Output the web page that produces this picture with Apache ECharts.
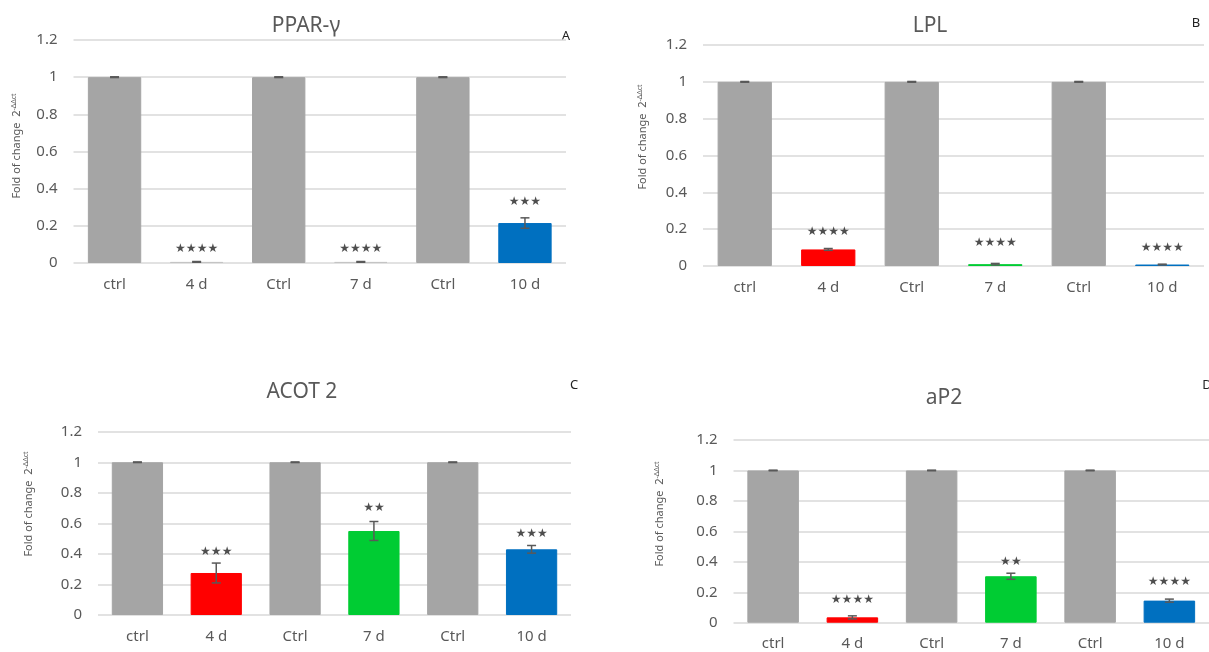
<!DOCTYPE html>
<html>
<head>
<meta charset="utf-8">
<script src="https://cdn.jsdelivr.net/npm/echarts@6/dist/echarts.min.js"></script>
<style>
  html, body { margin: 0; padding: 0; background: #fff; }
  #chart { width: 1209px; height: 652px; }
</style>
</head>
<body>
<div id="chart"></div>
<script>
// categories shared by all four panels
const categories = ["ctrl", "4 d", "Ctrl", "7 d", "Ctrl", "10 d"];

// PPAR-γ (A)
const ppargValues = [1, 0.006, 1, 0.006, 1, 0.215];
const ppargErrors = [0.002, 0.002, 0.002, 0.002, 0.002, 0.028];
const ppargStars = ["", "★★★★", "", "★★★★", "", "★★★"];
const ppargStarY = [0, 0.075, 0, 0.075, 0, 0.33];

// LPL (B)
const lplValues = [1, 0.09, 1, 0.01, 1, 0.008];
const lplErrors = [0.002, 0.005, 0.002, 0.004, 0.002, 0.002];
const lplStars = ["", "★★★★", "", "★★★★", "", "★★★★"];
const lplStarY = [0, 0.186, 0, 0.123, 0, 0.1];

// ACOT 2 (C)
const acotValues = [1, 0.275, 1, 0.55, 1, 0.43];
const acotErrors = [0.002, 0.065, 0.002, 0.062, 0.002, 0.025];
const acotStars = ["", "★★★", "", "★★", "", "★★★"];
const acotStarY = [0, 0.415, 0, 0.7, 0, 0.53];

// aP2 (D)
const ap2Values = [1, 0.035, 1, 0.305, 1, 0.145];
const ap2Errors = [0.002, 0.01, 0.002, 0.02, 0.002, 0.01];
const ap2Stars = ["", "★★★★", "", "★★", "", "★★★★"];
const ap2StarY = [0, 0.149, 0, 0.4, 0, 0.265];

const gray = "#a5a5a5";
const colorsA = [gray, "#c4c4c4", gray, "#c4c4c4", gray, "#0070c0"];
const colorsBCD = [gray, "#ff0000", gray, "#00cc33", gray, "#0070c0"];

const font = "Noto Sans";
const textGray = "#595959";

const grids = [
  { left: 73.5, top: 40, width: 492.5, height: 223 },
  { left: 703, top: 45, width: 501, height: 221 },
  { left: 98, top: 431.7, width: 473, height: 183.3 },
  { left: 733.5, top: 440, width: 486, height: 182.7 },
];

const panels = [
  { values: ppargValues, errors: ppargErrors, stars: ppargStars, starY: ppargStarY, colors: colorsA },
  { values: lplValues, errors: lplErrors, stars: lplStars, starY: lplStarY, colors: colorsBCD },
  { values: acotValues, errors: acotErrors, stars: acotStars, starY: acotStarY, colors: colorsBCD },
  { values: ap2Values, errors: ap2Errors, stars: ap2Stars, starY: ap2StarY, colors: colorsBCD },
];

const xAxes = [];
const yAxes = [];
const series = [];

panels.forEach((p, i) => {
  xAxes.push({
    gridIndex: i,
    type: "category",
    data: categories,
    axisLine: { show: false },
    axisTick: { show: false },
    axisLabel: { color: textGray, fontSize: 15, fontFamily: font, margin: 14 },
  });
  yAxes.push({
    gridIndex: i,
    type: "value",
    min: 0,
    max: 1.2,
    interval: 0.2,
    axisLine: { show: false },
    axisTick: { show: false },
    axisLabel: { color: textGray, fontSize: 15, fontFamily: font, margin: 16 },
    splitLine: { lineStyle: { color: "#d9d9d9", width: 1.5 } },
  });
  // bars
  series.push({
    type: "bar",
    xAxisIndex: i,
    yAxisIndex: i,
    barWidth: "65%",
    silent: true,
    data: p.values.map((v, k) => ({
      value: v,
      itemStyle: { color: p.colors[k], borderColor: p.colors[k], borderWidth: 1 },
    })),
  });
  // error bars
  series.push({
    type: "custom",
    xAxisIndex: i,
    yAxisIndex: i,
    silent: true,
    z: 5,
    data: p.values.map((v, k) => [k, v, p.errors[k]]),
    renderItem: function (params, api) {
      const x = api.value(0);
      const v = api.value(1);
      const e = api.value(2);
      const top = api.coord([x, v + e]);
      const bot = api.coord([x, Math.max(v - e, 0)]);
      const hw = 4.5;
      const style = { stroke: "#595959", lineWidth: 1.5 };
      return {
        type: "group",
        children: [
          { type: "line", shape: { x1: top[0], y1: top[1], x2: bot[0], y2: bot[1] }, style: style },
          { type: "line", shape: { x1: top[0] - hw, y1: top[1], x2: top[0] + hw, y2: top[1] }, style: style },
          { type: "line", shape: { x1: bot[0] - hw, y1: bot[1], x2: bot[0] + hw, y2: bot[1] }, style: style },
        ],
      };
    },
  });
  // significance stars
  series.push({
    type: "scatter",
    xAxisIndex: i,
    yAxisIndex: i,
    silent: true,
    symbolSize: 1,
    itemStyle: { color: "rgba(0,0,0,0)" },
    z: 6,
    data: p.values
      .map((v, k) => [k, p.starY[k], p.stars[k]])
      .filter((d) => d[2] !== ""),
    label: {
      show: true,
      position: "inside",
      formatter: (params) => params.value[2],
      color: "#222",
      fontSize: 12,
      fontFamily: "DejaVu Sans",
    },
  });
});

const titles = [
  { text: "PPAR-γ", x: 306, y: 26 },
  { text: "LPL", x: 930, y: 26 },
  { text: "ACOT 2", x: 302, y: 392 },
  { text: "aP2", x: 944, y: 398 },
];
const letters = [
  { text: "A", x: 566, y: 36 },
  { text: "B", x: 1196, y: 23 },
  { text: "C", x: 574, y: 385 },
  { text: "D", x: 1207, y: 385 },
];
const yNames = [
  { x: 17, y: 146 },
  { x: 643, y: 137 },
  { x: 29, y: 504 },
  { x: 660, y: 514 },
];

const graphics = [];
titles.forEach((t) => {
  graphics.push({
    type: "text",
    x: t.x,
    y: t.y,
    silent: true,
    style: {
      text: t.text,
      fill: textGray,
      font: "21px '" + font + "'",
      textAlign: "center",
      textVerticalAlign: "middle",
    },
  });
});
letters.forEach((t) => {
  graphics.push({
    type: "text",
    x: t.x,
    y: t.y,
    silent: true,
    style: {
      text: t.text,
      fill: "#222",
      font: "13px '" + font + "'",
      textAlign: "center",
      textVerticalAlign: "middle",
    },
  });
});
yNames.forEach((t) => {
  graphics.push({
    type: "text",
    x: t.x,
    y: t.y,
    rotation: Math.PI / 2,
    silent: true,
    style: {
      text: "{a|Fold of change  2}{b|-ΔΔct}",
      textAlign: "center",
      textVerticalAlign: "middle",
      rich: {
        a: { fill: textGray, fontSize: 11, fontFamily: font },
        b: { fill: textGray, fontSize: 7, fontFamily: font, padding: [0, 0, 7, 0] },
      },
    },
  });
});

const chart = echarts.init(document.getElementById("chart"));
chart.setOption({
  animation: false,
  grid: grids,
  xAxis: xAxes,
  yAxis: yAxes,
  series: series,
  graphic: graphics,
});
window.addEventListener("resize", function () {
  chart.resize();
});
</script>
</body>
</html>
